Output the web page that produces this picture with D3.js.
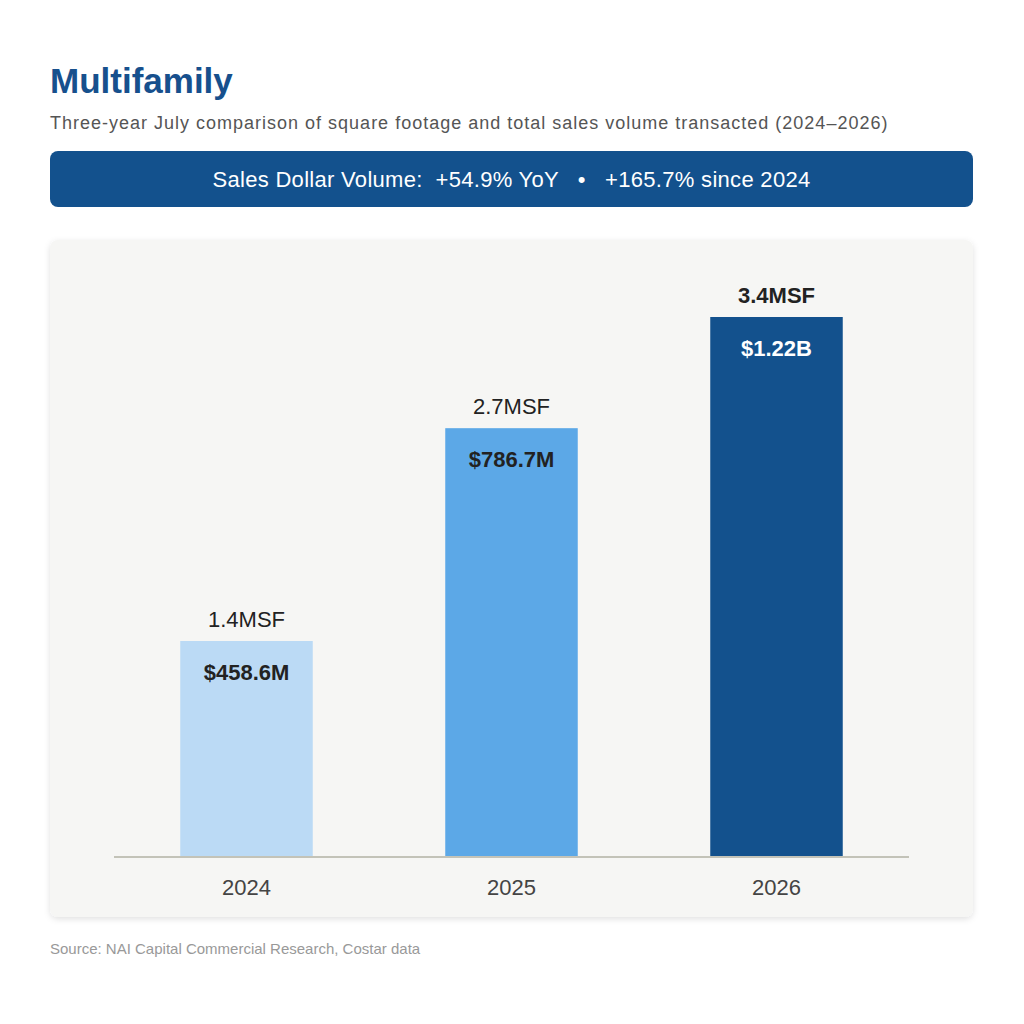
<!DOCTYPE html>
<html><head><meta charset="utf-8">
<script src="https://cdn.jsdelivr.net/npm/d3@7"></script>
<style>
body{margin:0;background:#fff;}
svg{display:block;font-family:"Liberation Sans",Arial,sans-serif;}
</style></head>
<body>
<svg id="chart" width="1024" height="1024"></svg>
<script>
const years = ["2024", "2025", "2026"];
const sqftMSF = [1.36, 2.70, 3.40];
const salesLabels = ["$458.6M", "$786.7M", "$1.22B"];
const barColors = ["#bbdaf5", "#5ca8e7", "#13518d"];
const salesLabelColors = ["#222222", "#222222", "#ffffff"];
const bannerText = "Sales Dollar Volume:  +54.9% YoY   \u2022   +165.7% since 2024";

const svg = d3.select("#chart");
const defs = svg.append("defs");
const f = defs.append("filter").attr("id","sh").attr("x","-5%").attr("y","-5%").attr("width","110%").attr("height","110%");
f.append("feDropShadow").attr("dx",0).attr("dy",2).attr("stdDeviation",3).attr("flood-color","#000").attr("flood-opacity",0.12);

svg.append("text").attr("x",50).attr("y",93).attr("font-size",35).attr("font-weight","bold")
  .attr("fill","#17508d").text("Multifamily");
svg.append("text").attr("x",50).attr("y",129).attr("font-size",18).attr("letter-spacing",1.0).attr("fill","#555")
  .text("Three-year July comparison of square footage and total sales volume transacted (2024\u20132026)");

svg.append("rect").attr("x",50).attr("y",151).attr("width",923).attr("height",56).attr("rx",8).attr("fill","#13518d");
svg.append("text").attr("x",511.5).attr("y",187).attr("text-anchor","middle").attr("font-size",22)
  .attr("letter-spacing",0.3)
  .attr("fill","#fff").attr("xml:space","preserve").style("white-space","pre").text(bannerText);

svg.append("rect").attr("x",50).attr("y",240).attr("width",923).attr("height",677).attr("rx",8)
  .attr("fill","#f6f6f4").attr("filter","url(#sh)");

const baseY = 857;
const x = d3.scaleBand().domain(years).range([114, 909]).paddingInner(0.5).paddingOuter(0.25);
const y = d3.scaleLinear().domain([0, 3.4]).range([baseY, 317]);

const data = years.map((yr,i)=>({yr, v:sqftMSF[i], s:salesLabels[i], c:barColors[i], lc:salesLabelColors[i], i}));

svg.selectAll("rect.bar").data(data).enter().append("rect").attr("class","bar")
  .attr("x",d=>x(d.yr)).attr("width",x.bandwidth())
  .attr("y",d=>y(d.v)).attr("height",d=>baseY-y(d.v)).attr("fill",d=>d.c);

svg.append("line").attr("x1",114).attr("x2",909).attr("y1",baseY).attr("y2",baseY)
  .attr("stroke","#c3c3b8").attr("stroke-width",2);

svg.selectAll("text.msf").data(data).enter().append("text").attr("class","msf")
  .attr("x",d=>x(d.yr)+x.bandwidth()/2).attr("y",d=>y(d.v)-14).attr("text-anchor","middle")
  .attr("font-size",22).attr("fill","#222")
  .attr("font-weight",(d,i)=>i===data.length-1?"bold":"normal")
  .text(d=>d3.format(".1f")(d.v)+"MSF");

svg.selectAll("text.sales").data(data).enter().append("text").attr("class","sales")
  .attr("x",d=>x(d.yr)+x.bandwidth()/2).attr("y",d=>y(d.v)+39).attr("text-anchor","middle")
  .attr("font-size",22).attr("font-weight","bold").attr("fill",d=>d.lc).text(d=>d.s);

const axis = d3.axisBottom(x).tickSize(0).tickPadding(0);
const ag = svg.append("g").attr("transform",`translate(0,${baseY})`).call(axis);
ag.select(".domain").remove();
ag.selectAll("text").attr("font-size",22).attr("fill","#444").attr("dy",null).attr("y",38)
  .attr("font-family","Liberation Sans, Arial, sans-serif");

svg.append("text").attr("x",50).attr("y",954).attr("font-size",15).attr("fill","#999")
  .text("Source: NAI Capital Commercial Research, Costar data");
</script>
</body></html>
